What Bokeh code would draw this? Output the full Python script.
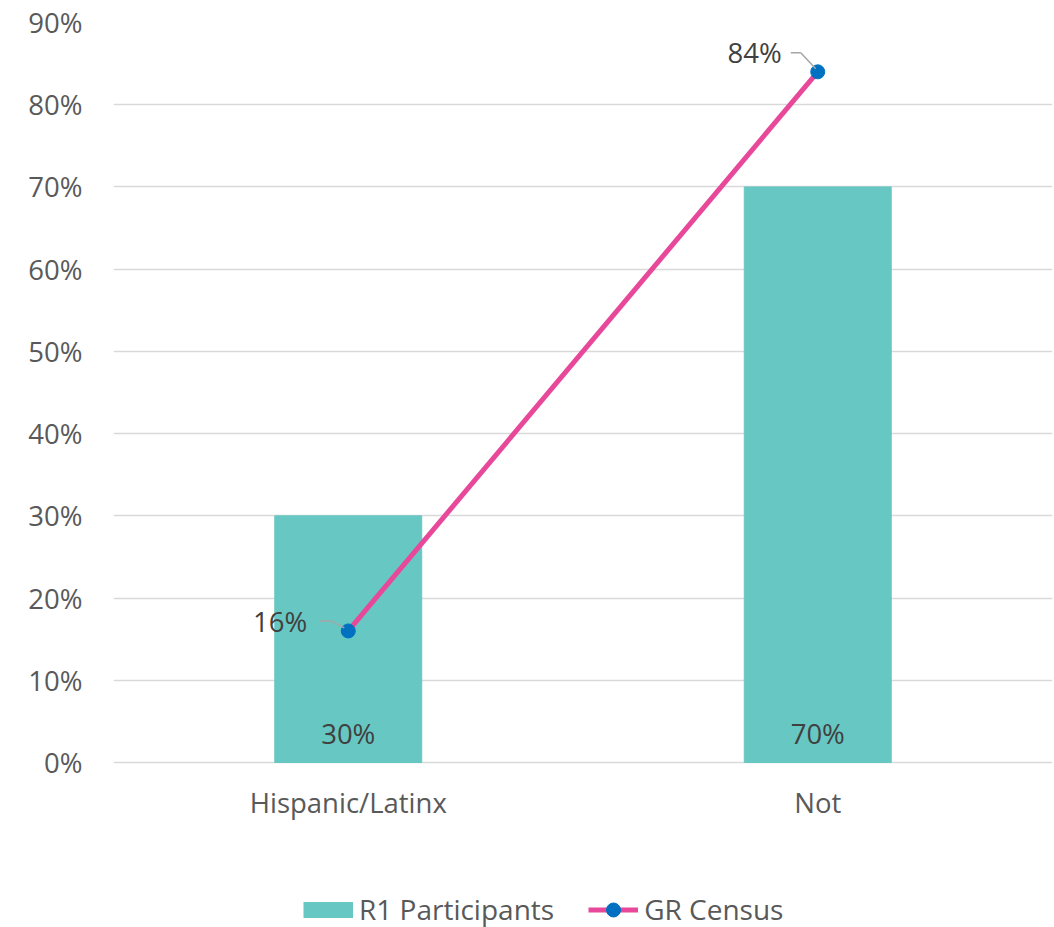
from bokeh.plotting import figure
from bokeh.models import (ColumnDataSource, FactorRange, Range1d, FixedTicker,
                          NumeralTickFormatter, Legend, LegendItem)
from bokeh.transform import dodge
from bokeh.core.properties import value
from bokeh.embed import file_html
from bokeh.resources import INLINE

categories = ["Hispanic/Latinx", "Not"]
r1_participants = [0.30, 0.70]
gr_census = [0.16, 0.84]
y_ticks = [0.0, 0.1, 0.2, 0.3, 0.4, 0.5, 0.6, 0.7, 0.8, 0.9]

FONT = "Open Sans"
FS = "27.5px"
BAR_COLOR = "#67C7C3"
LINE_COLOR = "#E8489A"
MARKER_COLOR = "#0070C0"
AXIS_TEXT = "#595959"
LABEL_TEXT = "#404040"

# vertical pixel geometry: 0..90% spans 740 px, extra 165 px below zero for labels/legend
px_y = 0.9 / 740.0
px_x = 1.0 / 469.5
y_bottom = -165 * px_y

src = ColumnDataSource(dict(
    cat=categories,
    r1=r1_participants,
    gr=gr_census,
    r1_lbl=[f"{round(v*100)}%" for v in r1_participants],
    zero=[0.0] * len(categories),
))

p = figure(width=1054, height=927, x_range=FactorRange(*categories, range_padding=0),
           y_range=Range1d(y_bottom, 0.9), output_backend="svg", toolbar_location=None,
           min_border_left=113, min_border_right=2, min_border_top=22, min_border_bottom=0)
p.outline_line_color = None
p.background_fill_color = "white"

# grid / axes
p.xgrid.grid_line_color = None
p.ygrid.grid_line_color = "#D9D9D9"
p.ygrid.grid_line_width = 1.5
p.yaxis.ticker = FixedTicker(ticks=y_ticks)
p.yaxis.formatter = NumeralTickFormatter(format="0%")
for ax in (p.xaxis[0], p.yaxis[0]):
    ax.axis_line_color = None
    ax.major_tick_line_color = None
    ax.minor_tick_line_color = None
    ax.major_tick_in = 0
    ax.major_tick_out = 0
    ax.major_label_text_font = FONT
    ax.major_label_text_font_size = FS
    ax.major_label_text_color = AXIS_TEXT
p.yaxis.major_label_standoff = 31
p.xaxis.major_label_standoff = 21
p.xaxis.fixed_location = 0

bars = p.vbar(x="cat", top="r1", width=0.313, source=src, color=BAR_COLOR)
line = p.line(x="cat", y="gr", source=src, line_color=LINE_COLOR, line_width=5)
dots = p.scatter(x="cat", y="gr", source=src, size=14, fill_color=MARKER_COLOR,
                 line_color=MARKER_COLOR)

# legend swatch for the bar series (NaN value: drawn only in the legend)
key_src = ColumnDataSource(dict(x=[categories[0]], y=[float("nan")]))
bar_key = p.line(x="x", y="y", source=key_src, line_color=BAR_COLOR,
                 line_width=16, line_cap="butt")

# bar data labels
p.text(x="cat", y="zero", text="r1_lbl", source=src, text_font=value(FONT),
       text_font_size=FS, text_color=LABEL_TEXT, text_align="center",
       text_baseline="middle", y_offset=-29)

# census data labels
lbl_dx = [-41, -36]
lbl_dy = [-9, -19]
src2 = ColumnDataSource(dict(
    cat=categories, gr=gr_census,
    gr_lbl=[f"{round(v*100)}%" for v in gr_census],
    xo=lbl_dx, yo=lbl_dy,
))
p.text(x="cat", y="gr", text="gr_lbl", source=src2, text_font=value(FONT),
       text_font_size=FS, text_color=LABEL_TEXT, text_align="right",
       text_baseline="middle", x_offset="xo", y_offset="yo")

# leader lines (horizontal part + angled part)
for cat, v, (hx0, hx1, hy, ex, ey) in zip(categories, gr_census,
                                           [(-29, -17, 10, -4, 3), (-27, -17, 19, -2, 3)]):
    s = ColumnDataSource(dict(c=[cat], y0=[v + hy * px_y], y1=[v + ey * px_y]))
    p.segment(x0=dodge("c", hx0 * px_x, range=p.x_range), y0="y0",
              x1=dodge("c", hx1 * px_x, range=p.x_range), y1="y0",
              source=s, line_color="#A6A6A6", line_width=1.5)
    p.segment(x0=dodge("c", hx1 * px_x, range=p.x_range), y0="y0",
              x1=dodge("c", ex * px_x, range=p.x_range), y1="y1",
              source=s, line_color="#A6A6A6", line_width=1.5)

legend = Legend(items=[LegendItem(label="R1 Participants", renderers=[bar_key]),
                       LegendItem(label="GR Census", renderers=[line, dots])],
                orientation="horizontal", location=(190, -1),
                glyph_width=50, glyph_height=35, label_standoff=6, spacing=34,
                padding=0, margin=0, border_line_color=None, background_fill_alpha=0,
                label_text_font=FONT, label_text_font_size="28px",
                label_text_color=AXIS_TEXT)
p.add_layout(legend, "center")

open("out.html", "w").write(file_html(p, INLINE))
